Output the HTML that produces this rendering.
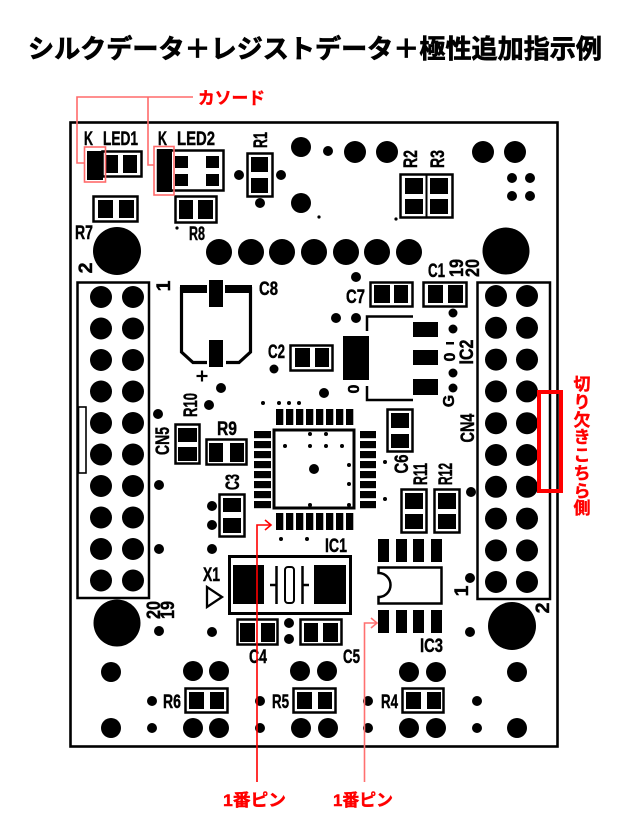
<!DOCTYPE html>
<html><head><meta charset="utf-8"><style>
html,body{margin:0;padding:0;background:#fff;}
svg{display:block;}
</style></head><body>
<svg width="630" height="832" viewBox="0 0 630 832" xmlns="http://www.w3.org/2000/svg">
<rect width="630" height="832" fill="#fff"/>
<!-- Title -->
<text x="315" y="58" text-anchor="middle" font-family="'Noto Sans CJK JP', 'Noto Sans CJK SC', sans-serif" font-weight="bold" font-size="26" textLength="574" lengthAdjust="spacingAndGlyphs" fill="#000" stroke="#000" stroke-width="0.7">シルクデータ＋レジストデータ＋極性追加指示例</text>

<!-- Board -->
<rect x="70.5" y="122.5" width="487" height="624" fill="none" stroke="#000" stroke-width="2.6"/>

<g fill="#000">
<!-- LED1 -->
<rect x="87" y="151" width="16" height="29"/>
<rect x="102.5" y="151.5" width="39" height="25" fill="none" stroke="#000" stroke-width="2.5"/>
<rect x="105" y="155" width="13" height="18"/>
<rect x="123" y="155" width="14" height="18"/>
<!-- LED2 -->
<rect x="158" y="150.5" width="65.5" height="40" fill="none" stroke="#000" stroke-width="2.5"/>
<rect x="157" y="149" width="15" height="43"/>
<rect x="175" y="156" width="13" height="12"/>
<rect x="206" y="156" width="13" height="12"/>
<rect x="175" y="174" width="13" height="12"/>
<rect x="206" y="174" width="13" height="12"/>
<!-- R7 -->
<rect x="93.5" y="196.5" width="44" height="25" fill="none" stroke="#000" stroke-width="2.5"/>
<rect x="98" y="200" width="15" height="18"/>
<rect x="119" y="200" width="15" height="18"/>
<!-- R8 -->
<rect x="175.5" y="196.5" width="41" height="26" fill="none" stroke="#000" stroke-width="2.5"/>
<rect x="179" y="200" width="14" height="19"/>
<rect x="198" y="200" width="15" height="19"/>
<circle cx="177" cy="228" r="1.6"/>
<!-- R1 -->
<rect x="247.5" y="153.5" width="25" height="43" fill="none" stroke="#000" stroke-width="2.5"/>
<rect x="251" y="157" width="17" height="15"/>
<rect x="251" y="178" width="17" height="15"/>
<circle cx="239" cy="175" r="5"/>
<circle cx="281" cy="175" r="5"/>
<circle cx="260" cy="203" r="5"/>
<!-- R2 R3 -->
<rect x="400.5" y="174.5" width="52" height="43" fill="none" stroke="#000" stroke-width="2.5"/>
<line x1="426.5" y1="174" x2="426.5" y2="218" stroke="#000" stroke-width="2"/>
<rect x="405" y="178" width="18" height="16"/>
<rect x="405" y="199" width="18" height="15"/>
<rect x="430" y="178" width="18" height="16"/>
<rect x="430" y="199" width="18" height="15"/>
<!-- top circles -->
<circle cx="301" cy="147" r="10"/>
<circle cx="328" cy="151" r="5"/>
<circle cx="355" cy="152" r="11"/>
<circle cx="387" cy="152" r="11"/>
<circle cx="483" cy="152" r="11"/>
<circle cx="515" cy="152" r="11"/>
<circle cx="512" cy="178" r="5"/>
<circle cx="530" cy="178" r="5"/>
<circle cx="512" cy="196" r="5"/>
<circle cx="530" cy="196" r="5"/>
<circle cx="301" cy="203" r="10"/>
<circle cx="319" cy="217" r="1.6"/>
<circle cx="396" cy="219" r="1.6"/>
<!-- row of 7 -->
<circle cx="219" cy="252" r="13"/>
<circle cx="251" cy="252" r="13"/>
<circle cx="282" cy="252" r="13"/>
<circle cx="314" cy="252" r="13"/>
<circle cx="346" cy="252" r="13"/>
<circle cx="377" cy="252" r="13"/>
<circle cx="409" cy="252" r="13"/>
<!-- big mounting circles -->
<circle cx="117" cy="251" r="24"/>
<circle cx="506" cy="251" r="23.5"/>
<circle cx="117" cy="623" r="23.5"/>
<circle cx="512" cy="626" r="24"/>

<!-- C1 / C7 -->
<rect x="423.5" y="282.5" width="43" height="24" fill="none" stroke="#000" stroke-width="2.5"/>
<rect x="428" y="285" width="15" height="18"/>
<rect x="448" y="285" width="15" height="18"/>
<rect x="370.5" y="282.5" width="42" height="24" fill="none" stroke="#000" stroke-width="2.5"/>
<rect x="374" y="285" width="16" height="18"/>
<rect x="394" y="285" width="14" height="18"/>
<circle cx="356" cy="277" r="5"/>

<!-- IC2 -->
<circle cx="336" cy="318" r="5"/>
<circle cx="356" cy="318" r="5"/>
<circle cx="453" cy="313" r="4.5"/>
<circle cx="453" cy="329" r="4.5"/>
<circle cx="453" cy="373" r="4.5"/>
<circle cx="453" cy="388" r="4.5"/>
<polyline points="367,331 367,316.5 413,316.5" fill="none" stroke="#000" stroke-width="2.5"/>
<polyline points="367,386 367,400 413,400" fill="none" stroke="#000" stroke-width="2.5"/>
<rect x="343" y="336" width="26" height="44"/>
<rect x="413" y="322" width="25" height="15"/>
<rect x="413" y="350" width="25" height="15"/>
<rect x="413" y="379" width="25" height="16"/>
<rect x="446" y="342" width="8" height="2.5"/>

<!-- C2 -->
<rect x="290.5" y="345.5" width="42" height="25" fill="none" stroke="#000" stroke-width="2.5"/>
<rect x="295" y="348" width="15" height="19"/>
<rect x="315" y="348" width="14" height="19"/>
<circle cx="274" cy="369" r="4.5"/>
<circle cx="324" cy="393" r="5"/>

<!-- C8 -->
<rect x="180" y="285" width="27" height="8"/>
<rect x="225" y="285" width="27" height="8"/>
<rect x="209" y="280" width="14" height="27"/>
<rect x="209" y="340" width="14" height="27"/>
<polyline points="181.5,287 181.5,352 193,362.5 207,362.5" fill="none" stroke="#000" stroke-width="3.2"/>
<polyline points="250.5,287 250.5,352 239,362.5 226,362.5" fill="none" stroke="#000" stroke-width="3.2"/>
<line x1="196.5" y1="376" x2="207.5" y2="376" stroke="#000" stroke-width="2.2"/>
<line x1="202" y1="370.5" x2="202" y2="381.5" stroke="#000" stroke-width="2.2"/>

<!-- CN5 -->
<rect x="77.5" y="282.5" width="71.5" height="315.5" fill="none" stroke="#000" stroke-width="2.5"/>
<rect x="78.5" y="407" width="7.5" height="66" fill="#fff" stroke="#000" stroke-width="1.6"/>
<!-- CN4 -->
<rect x="477.5" y="282.5" width="72.5" height="316.5" fill="none" stroke="#000" stroke-width="2.5"/>

<!-- header pins -->
<g>
<circle cx="101" cy="297" r="11"/><circle cx="133" cy="297" r="11"/>
<circle cx="101" cy="328.5" r="11"/><circle cx="133" cy="328.5" r="11"/>
<circle cx="101" cy="360" r="11"/><circle cx="133" cy="360" r="11"/>
<circle cx="101" cy="391.5" r="11"/><circle cx="133" cy="391.5" r="11"/>
<circle cx="101" cy="423" r="11"/><circle cx="133" cy="423" r="11"/>
<circle cx="101" cy="454.5" r="11"/><circle cx="133" cy="454.5" r="11"/>
<circle cx="101" cy="486" r="11"/><circle cx="133" cy="486" r="11"/>
<circle cx="101" cy="517.5" r="11"/><circle cx="133" cy="517.5" r="11"/>
<circle cx="101" cy="549" r="11"/><circle cx="133" cy="549" r="11"/>
<circle cx="101" cy="580.5" r="11"/><circle cx="133" cy="580.5" r="11"/>

<circle cx="496" cy="296" r="11"/><circle cx="527" cy="296" r="11"/>
<circle cx="496" cy="327.8" r="11"/><circle cx="527" cy="327.8" r="11"/>
<circle cx="496" cy="359.6" r="11"/><circle cx="527" cy="359.6" r="11"/>
<circle cx="496" cy="391.4" r="11"/><circle cx="527" cy="391.4" r="11"/>
<circle cx="496" cy="423.2" r="11"/><circle cx="527" cy="423.2" r="11"/>
<circle cx="496" cy="455" r="11"/><circle cx="527" cy="455" r="11"/>
<circle cx="496" cy="486.8" r="11"/><circle cx="527" cy="486.8" r="11"/>
<circle cx="496" cy="518.6" r="11"/><circle cx="527" cy="518.6" r="11"/>
<circle cx="496" cy="550.4" r="11"/><circle cx="527" cy="550.4" r="11"/>
<circle cx="496" cy="582" r="11"/><circle cx="527" cy="582" r="11"/>
</g>

<!-- misc dots -->
<circle cx="158" cy="414" r="5"/>
<circle cx="159" cy="485" r="5"/>
<circle cx="159" cy="549" r="5"/>
<circle cx="159" cy="631" r="5"/>
<circle cx="209" cy="405" r="5"/>
<circle cx="221" cy="388" r="5"/>
<circle cx="471" cy="492" r="5"/>
<circle cx="470" cy="578" r="5"/>
<circle cx="470" cy="632" r="5"/>

<!-- R10 / R9 / C3 -->
<rect x="175.5" y="424.5" width="24" height="39" fill="none" stroke="#000" stroke-width="2.5"/>
<rect x="178" y="428" width="19" height="14"/>
<rect x="178" y="447" width="19" height="14"/>
<rect x="206.5" y="439.5" width="40" height="25" fill="none" stroke="#000" stroke-width="2.5"/>
<rect x="209" y="443" width="14" height="19"/>
<rect x="230" y="443" width="14" height="19"/>
<rect x="219.5" y="494.5" width="25" height="42" fill="none" stroke="#000" stroke-width="2.5"/>
<rect x="223" y="498" width="18" height="14"/>
<rect x="223" y="518" width="18" height="15"/>
<circle cx="212" cy="506" r="5"/>
<circle cx="212" cy="525" r="5"/>
<circle cx="212" cy="549" r="5"/>

<!-- IC1 -->
<rect x="274" y="430" width="80" height="78" fill="none" stroke="#000" stroke-width="3"/>
<g>
<rect x="276" y="409" width="7.3" height="16"/><rect x="286" y="409" width="7.3" height="16"/>
<rect x="296" y="409" width="7.3" height="16"/><rect x="306" y="409" width="7.3" height="16"/>
<rect x="316" y="409" width="7.3" height="16"/><rect x="326" y="409" width="7.3" height="16"/>
<rect x="336" y="409" width="7.3" height="16"/><rect x="346" y="409" width="7.3" height="16"/>
<rect x="276" y="513" width="7.3" height="17"/><rect x="286" y="513" width="7.3" height="17"/>
<rect x="296" y="513" width="7.3" height="17"/><rect x="306" y="513" width="7.3" height="17"/>
<rect x="316" y="513" width="7.3" height="17"/><rect x="326" y="513" width="7.3" height="17"/>
<rect x="336" y="513" width="7.3" height="17"/><rect x="346" y="513" width="7.3" height="17"/>
<rect x="254" y="431" width="17" height="7.2"/><rect x="254" y="441" width="17" height="7.2"/>
<rect x="254" y="451" width="17" height="7.2"/><rect x="254" y="461" width="17" height="7.2"/>
<rect x="254" y="471" width="17" height="7.2"/><rect x="254" y="481" width="17" height="7.2"/>
<rect x="254" y="491" width="17" height="7.2"/><rect x="254" y="501" width="17" height="7.2"/>
<rect x="360" y="431" width="16" height="7.2"/><rect x="360" y="441" width="16" height="7.2"/>
<rect x="360" y="451" width="16" height="7.2"/><rect x="360" y="461" width="16" height="7.2"/>
<rect x="360" y="471" width="16" height="7.2"/><rect x="360" y="481" width="16" height="7.2"/>
<rect x="360" y="491" width="16" height="7.2"/><rect x="360" y="501" width="16" height="7.2"/>
</g>
<circle cx="310" cy="434" r="2"/><circle cx="326" cy="434" r="2"/>
<circle cx="285" cy="446" r="2"/><circle cx="310" cy="446" r="2"/><circle cx="326" cy="446" r="2"/><circle cx="342" cy="446" r="2"/>
<circle cx="314" cy="469" r="5"/>
<circle cx="349" cy="465" r="2"/><circle cx="349" cy="484" r="2"/>
<circle cx="310" cy="505" r="2"/><circle cx="349" cy="505" r="2"/>
<circle cx="263" cy="403" r="2"/><circle cx="279" cy="403" r="2"/><circle cx="289" cy="403" r="2"/><circle cx="299" cy="403" r="2"/>
<circle cx="281" cy="539" r="2"/><circle cx="307" cy="539" r="2"/>
<circle cx="385" cy="462" r="2"/><circle cx="385" cy="499" r="2"/>

<!-- C6 / R11 / R12 -->
<rect x="387.5" y="409.5" width="25" height="42" fill="none" stroke="#000" stroke-width="2.5"/>
<rect x="391" y="413" width="18" height="15"/>
<rect x="391" y="434" width="18" height="14"/>
<rect x="401.5" y="489.5" width="25" height="43" fill="none" stroke="#000" stroke-width="2.5"/>
<rect x="405" y="493" width="18" height="16"/>
<rect x="405" y="514" width="18" height="15"/>
<rect x="434.5" y="489.5" width="25" height="43" fill="none" stroke="#000" stroke-width="2.5"/>
<rect x="438" y="493" width="18" height="16"/>
<rect x="438" y="514" width="18" height="15"/>

<!-- X1 -->
<rect x="229.5" y="556.5" width="121" height="57" fill="none" stroke="#000" stroke-width="3"/>
<rect x="233" y="565" width="31" height="39"/>
<rect x="314" y="565" width="32" height="39"/>
<rect x="285" y="567" width="9" height="36" rx="3" fill="none" stroke="#000" stroke-width="2"/>
<line x1="276.5" y1="566" x2="276.5" y2="604" stroke="#000" stroke-width="2.5"/>
<line x1="302.5" y1="566" x2="302.5" y2="604" stroke="#000" stroke-width="2.5"/>
<line x1="270" y1="585" x2="276" y2="585" stroke="#000" stroke-width="2.5"/>
<line x1="303" y1="585" x2="309" y2="585" stroke="#000" stroke-width="2.5"/>
<polygon points="207,587 207,607 222,597" fill="none" stroke="#000" stroke-width="2.3"/>

<!-- C4 / C5 -->
<rect x="237.5" y="619.5" width="40" height="25" fill="none" stroke="#000" stroke-width="2.5"/>
<rect x="240" y="623" width="15" height="19"/>
<rect x="261" y="623" width="14" height="19"/>
<rect x="300.5" y="619.5" width="41" height="25" fill="none" stroke="#000" stroke-width="2.5"/>
<rect x="304" y="623" width="14" height="19"/>
<rect x="323" y="623" width="15" height="19"/>
<circle cx="289" cy="623" r="5"/>
<circle cx="289" cy="639" r="5"/>
<circle cx="212" cy="632" r="5"/>
<circle cx="193" cy="671" r="10"/><circle cx="219" cy="671" r="10"/>
<circle cx="300" cy="671" r="10"/><circle cx="327" cy="671" r="10"/>

<!-- IC3 -->
<rect x="378" y="539" width="11" height="23"/>
<rect x="396" y="539" width="11" height="23"/>
<rect x="413" y="539" width="11" height="23"/>
<rect x="431" y="539" width="11" height="23"/>
<path d="M378.5,567.5 H441.5 V603.5 H378.5 V597 A12,12 0 0 0 378.5,573 Z" fill="none" stroke="#000" stroke-width="2.5"/>
<rect x="378" y="610" width="11" height="23"/>
<rect x="396" y="610" width="11" height="23"/>
<rect x="413" y="610" width="11" height="23"/>
<rect x="431" y="610" width="11" height="23"/>

<!-- bottom rows -->
<circle cx="111" cy="672" r="10"/>
<circle cx="409" cy="672" r="10"/><circle cx="436" cy="672" r="10"/>
<circle cx="517" cy="672" r="10"/>
<circle cx="111" cy="728" r="10"/>
<circle cx="152" cy="728" r="5"/>
<circle cx="193" cy="728" r="10"/><circle cx="219" cy="728" r="10"/>
<circle cx="260" cy="728" r="5"/>
<circle cx="301" cy="728" r="10"/><circle cx="328" cy="728" r="10"/>
<circle cx="368" cy="728" r="5"/>
<circle cx="409" cy="728" r="10"/><circle cx="436" cy="728" r="10"/>
<circle cx="477" cy="728" r="5"/>
<circle cx="517" cy="728" r="10"/>
<circle cx="152" cy="701" r="5"/>
<circle cx="260" cy="701" r="5"/>
<circle cx="368" cy="701" r="5"/>
<circle cx="477" cy="701" r="5"/>
<rect x="185.5" y="688.5" width="42" height="24" fill="none" stroke="#000" stroke-width="2.5"/>
<rect x="189" y="692" width="15" height="17"/>
<rect x="210" y="692" width="14" height="17"/>
<rect x="293.5" y="688.5" width="42" height="24" fill="none" stroke="#000" stroke-width="2.5"/>
<rect x="297" y="692" width="15" height="17"/>
<rect x="318" y="692" width="14" height="17"/>
<rect x="402.5" y="688.5" width="41" height="24" fill="none" stroke="#000" stroke-width="2.5"/>
<rect x="406" y="692" width="15" height="17"/>
<rect x="427" y="692" width="14" height="17"/>
</g>

<!-- Silk labels -->
<g font-family="'Liberation Sans', Arial, sans-serif" font-weight="bold" font-size="19.5" fill="#000" stroke="#000" stroke-width="0.45">
<text x="84" y="145" textLength="9" lengthAdjust="spacingAndGlyphs">K</text>
<text x="103" y="145" textLength="35" lengthAdjust="spacingAndGlyphs">LED1</text>
<text x="158" y="145" textLength="9" lengthAdjust="spacingAndGlyphs">K</text>
<text x="177" y="145" textLength="38" lengthAdjust="spacingAndGlyphs">LED2</text>
<text x="75" y="239" textLength="18" lengthAdjust="spacingAndGlyphs">R7</text>
<text x="189" y="240" textLength="16" lengthAdjust="spacingAndGlyphs">R8</text>
<text x="259" y="295" textLength="19" lengthAdjust="spacingAndGlyphs">C8</text>
<text x="346" y="303" textLength="19" lengthAdjust="spacingAndGlyphs">C7</text>
<text x="428" y="277" textLength="17" lengthAdjust="spacingAndGlyphs">C1</text>
<text x="268" y="358" textLength="17" lengthAdjust="spacingAndGlyphs">C2</text>
<text x="217" y="435" textLength="20" lengthAdjust="spacingAndGlyphs">R9</text>
<text x="325" y="552" textLength="22" lengthAdjust="spacingAndGlyphs">IC1</text>
<text x="203" y="581" textLength="17" lengthAdjust="spacingAndGlyphs">X1</text>
<text x="249" y="663" textLength="18" lengthAdjust="spacingAndGlyphs">C4</text>
<text x="343" y="663" textLength="17" lengthAdjust="spacingAndGlyphs">C5</text>
<text x="420" y="652" textLength="23" lengthAdjust="spacingAndGlyphs">IC3</text>
<text x="163" y="708" textLength="18" lengthAdjust="spacingAndGlyphs">R6</text>
<text x="272" y="708" textLength="17" lengthAdjust="spacingAndGlyphs">R5</text>
<text x="381" y="708" textLength="17" lengthAdjust="spacingAndGlyphs">R4</text>

<text transform="translate(260,140) rotate(-90)" y="7" text-anchor="middle" textLength="16" lengthAdjust="spacingAndGlyphs">R1</text>
<text transform="translate(410,159) rotate(-90)" y="7" text-anchor="middle" textLength="18" lengthAdjust="spacingAndGlyphs">R2</text>
<text transform="translate(437,159) rotate(-90)" y="7" text-anchor="middle" textLength="18" lengthAdjust="spacingAndGlyphs">R3</text>
<text transform="translate(456,268) rotate(-90)" y="7" text-anchor="middle" textLength="18" lengthAdjust="spacingAndGlyphs">19</text>
<text transform="translate(472,268) rotate(-90)" y="7" text-anchor="middle" textLength="18" lengthAdjust="spacingAndGlyphs">20</text>
<text transform="translate(85,268) rotate(-90)" y="7" text-anchor="middle">2</text>
<text transform="translate(163,286) rotate(-90)" y="7" text-anchor="middle">1</text>
<text transform="translate(190,405) rotate(-90)" y="7" text-anchor="middle" textLength="24" lengthAdjust="spacingAndGlyphs">R10</text>
<text transform="translate(162,441) rotate(-90)" y="7" text-anchor="middle" textLength="28" lengthAdjust="spacingAndGlyphs">CN5</text>
<text transform="translate(232,482) rotate(-90)" y="7" text-anchor="middle" textLength="16" lengthAdjust="spacingAndGlyphs">C3</text>
<text transform="translate(401,464) rotate(-90)" y="7" text-anchor="middle" textLength="19" lengthAdjust="spacingAndGlyphs">C6</text>
<text transform="translate(420,474) rotate(-90)" y="7" text-anchor="middle" textLength="22" lengthAdjust="spacingAndGlyphs">R11</text>
<text transform="translate(445,474) rotate(-90)" y="7" text-anchor="middle" textLength="22" lengthAdjust="spacingAndGlyphs">R12</text>
<text transform="translate(466,352) rotate(-90)" y="7" text-anchor="middle" textLength="25" lengthAdjust="spacingAndGlyphs">IC2</text>
<text transform="translate(467,428) rotate(-90)" y="7" text-anchor="middle" textLength="29" lengthAdjust="spacingAndGlyphs">CN4</text>
<text transform="translate(353,389) rotate(-90)" y="6" text-anchor="middle" font-size="16">0</text>
<text transform="translate(449,357) rotate(-90)" y="6" text-anchor="middle" font-size="16">0</text>
<text transform="translate(448,401) rotate(-90)" y="6" text-anchor="middle" font-size="16">G</text>
<text transform="translate(153,610) rotate(-90)" y="7" text-anchor="middle" textLength="18" lengthAdjust="spacingAndGlyphs">20</text>
<text transform="translate(167,610) rotate(-90)" y="7" text-anchor="middle" textLength="18" lengthAdjust="spacingAndGlyphs">19</text>
<text transform="translate(461,591) rotate(-90)" y="7" text-anchor="middle">1</text>
<text transform="translate(542,608) rotate(-90)" y="7" text-anchor="middle">2</text>
</g>

<!-- Red annotations -->
<g fill="none" stroke="#ff6a6a" stroke-width="1.6">
<polyline points="193,97 77,97 77,163 84,163"/>
<polyline points="148,97 148,165 154,165"/>
<rect x="84.5" y="147" width="21" height="35"/>
<rect x="154" y="146.5" width="20" height="48.5"/>
</g>
<g fill="none" stroke="#f00" stroke-width="1.6">
<polyline points="257,782 257,525 271,525"/>
<polyline points="265,520 271,525 265,530"/>
</g>
<g fill="none" stroke="#ff7070" stroke-width="1.6">
<polyline points="364.5,782 364.5,623 377,623"/>
<polyline points="371,618 377,623 371,628"/>
</g>
<rect x="539" y="392" width="22" height="99" fill="none" stroke="#f00" stroke-width="4"/>

<g font-family="'Liberation Sans', 'Noto Sans CJK JP', sans-serif" font-weight="bold" fill="#f00" stroke="#f00" stroke-width="0.4">
<text x="198" y="104" font-size="17" textLength="67" lengthAdjust="spacingAndGlyphs">カソード</text>
<text x="223" y="806" font-size="17" textLength="63" lengthAdjust="spacingAndGlyphs">1番ピン</text>
<text x="333" y="806" font-size="17" textLength="60" lengthAdjust="spacingAndGlyphs">1番ピン</text>
</g>
<g font-family="'Noto Sans CJK JP', sans-serif" font-weight="bold" fill="#f00" stroke="#f00" stroke-width="0.4" font-size="17" text-anchor="middle">
<text x="582" y="390">切</text>
<text x="582" y="408">り</text>
<text x="582" y="426">欠</text>
<text x="582" y="443">き</text>
<text x="582" y="461">こ</text>
<text x="582" y="479">ち</text>
<text x="582" y="497">ら</text>
<text x="582" y="514">側</text>
</g>
</svg>
</body></html>
